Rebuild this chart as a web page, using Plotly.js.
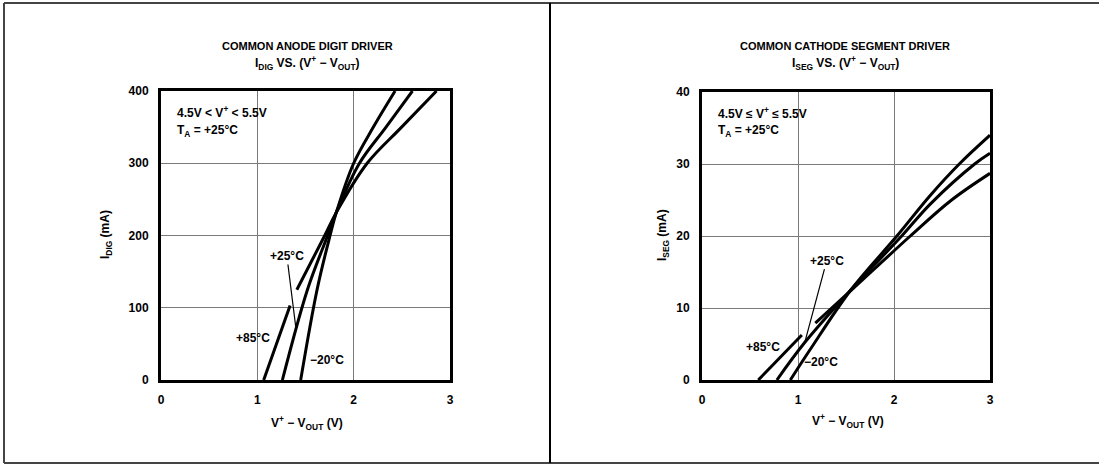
<!DOCTYPE html>
<html>
<head>
<meta charset="utf-8">
<script src="https://cdn.plot.ly/plotly-3.0.1.min.js"></script>
<style>html,body{margin:0;padding:0;background:#fff}#chart{width:1099px;height:464px}</style>
</head>
<body>
<div id="chart"></div>
<script>
// ---- Data ----
const xTickVals = [0, 1, 2, 3];
const digTickVals = [0, 100, 200, 300, 400];
const segTickVals = [0, 10, 20, 30, 40];

// Left: common anode digit driver, I_DIG (mA) vs V+ - VOUT (V)
const digX_m20 = [1.45, 1.62, 1.755, 1.82, 2.0, 2.20, 2.43];
const digY_m20 = [0, 125, 200, 232, 300, 349, 400];
const digX_p25 = [1.26, 1.52, 1.73, 1.82, 2.06, 2.33, 2.61];
const digY_p25 = [0, 125, 200, 232, 300, 349, 400];
const digX_p85 = [1.066, 1.34, null, 1.41, 1.70, 1.82, 2.14, 2.49, 2.86];
const digY_p85 = [0, 103, null, 125, 200, 232, 300, 349, 400];

// Right: common cathode segment driver, I_SEG (mA) vs V+ - VOUT (V)
const segX_m20 = [0.92, 1.125, 1.55, 2.03, 2.375, 2.68, 3.0];
const segY_m20 = [0, 4.2, 12.5, 20, 25.6, 30, 34.0];
const segX_p25 = [0.78, 1.07, 1.55, 2.08, 2.375, 2.84, 3.0];
const segY_p25 = [0, 5.2, 12.5, 20, 24.4, 30, 31.5];
const segX_p85 = [0.586, 1.04, null, 1.18, 1.55, 2.17, 2.6, 3.0];
const segY_p85 = [0, 6.25, null, 7.9, 12.4, 20, 25, 28.7];

// ---- Layout helpers ----
const W = 1099, H = 464;
const FONT = 'Liberation Sans, Arial, sans-serif';
const px = v => v / W;
const py = v => 1 - v / H;

function curve(x, y, xa, ya) {
  return {x: x, y: y, xaxis: xa, yaxis: ya, mode: 'lines', type: 'scatter',
          line: {color: '#000', width: 3, shape: 'spline', smoothing: 1.0},
          connectgaps: false, hoverinfo: 'skip', showlegend: false};
}

const traces = [
  curve(digX_m20, digY_m20, 'x', 'y'),
  curve(digX_p25, digY_p25, 'x', 'y'),
  curve(digX_p85, digY_p85, 'x', 'y'),
  curve(segX_m20, segY_m20, 'x2', 'y2'),
  curve(segX_p25, segY_p25, 'x2', 'y2'),
  curve(segX_p85, segY_p85, 'x2', 'y2')
];

const tickFont = {family: FONT, size: 12, color: '#000', weight: 'bold'};
function xAxis(domain, anchor) {
  return {domain: domain, anchor: anchor, range: [0, 3], tickvals: xTickVals,
          showgrid: true, gridcolor: '#7a7a7a', gridwidth: 1, zeroline: false,
          showline: true, linecolor: '#000', linewidth: 3, mirror: true, ticks: '',
          ticklabelstandoff: 7, tickfont: tickFont, fixedrange: true};
}
function yAxis(domain, anchor, range, vals) {
  return {domain: domain, anchor: anchor, range: range, tickvals: vals,
          showgrid: true, gridcolor: '#7a7a7a', gridwidth: 1, zeroline: false,
          showline: true, linecolor: '#000', linewidth: 3, mirror: true, ticks: '',
          ticklabelstandoff: 7, tickfont: tickFont, fixedrange: true};
}

function paperText(text, x, y, xanchor, size, angle) {
  return {text: text, xref: 'paper', yref: 'paper', x: px(x), y: py(y),
          xanchor: xanchor || 'center', yanchor: 'middle', showarrow: false,
          textangle: angle || 0,
          font: {family: FONT, size: size || 12, color: '#000', weight: 'bold'}};
}
function dataText(text, xr, yr, x, y) {
  return {text: text, xref: xr, yref: yr, x: x, y: y, xanchor: 'center', yanchor: 'middle',
          showarrow: false, font: {family: FONT, size: 12, color: '#000', weight: 'bold'}};
}
function leader(text, xr, yr, x, y, ax, ay) {
  return {text: text, xref: xr, yref: yr, x: x, y: y, ax: ax, ay: ay, showarrow: true,
          arrowhead: 0, arrowwidth: 1.2, arrowcolor: '#000', standoff: 0,
          font: {family: FONT, size: 12, color: '#000', weight: 'bold'}};
}

const annotations = [
  // left panel
  paperText('COMMON ANODE DIGIT DRIVER', 307, 46, 'center', 11),
  paperText('I<sub>DIG</sub> VS. (V<sup>+</sup> − V<sub>OUT</sub>)', 307, 63, 'center', 12),
  paperText('4.5V < V<sup>+</sup> < 5.5V', 175, 112, 'left', 12),
  paperText('T<sub>A</sub> = +25°C', 175, 131, 'left', 12),
  paperText('V<sup>+</sup> − V<sub>OUT</sub> (V)', 307, 423, 'center', 12),
  paperText('I<sub>DIG</sub> (mA)', 106, 235, 'center', 12, -90),
  dataText('+85°C', 'x', 'y', 0.95, 58),
  dataText('−20°C', 'x', 'y', 1.72, 28),
  leader('+25°C', 'x', 'y', 1.40, 72, -9, -72),
  // right panel
  paperText('COMMON CATHODE SEGMENT DRIVER', 845, 46, 'center', 11),
  paperText('I<sub>SEG</sub> VS. (V<sup>+</sup> − V<sub>OUT</sub>)', 845, 63, 'center', 12),
  paperText('4.5V ≤ V<sup>+</sup> ≤ 5.5V', 716, 113, 'left', 12),
  paperText('T<sub>A</sub> = +25°C', 716, 131, 'left', 12),
  paperText('V<sup>+</sup> − V<sub>OUT</sub> (V)', 848, 421, 'center', 12),
  paperText('I<sub>SEG</sub> (mA)', 663, 235, 'center', 12, -90),
  dataText('+85°C', 'x2', 'y2', 0.64, 4.6),
  dataText('−20°C', 'x2', 'y2', 1.24, 2.55),
  leader('+25°C', 'x2', 'y2', 1.07, 5.2, 22, -82)
];

const lineStyle = {color: '#444', width: 2};
const shapes = [
  {type: 'line', xref: 'paper', yref: 'paper', x0: px(4), x1: 1, y0: py(3), y1: py(3), line: lineStyle},
  {type: 'line', xref: 'paper', yref: 'paper', x0: px(4), x1: px(4), y0: py(3), y1: py(463), line: lineStyle},
  {type: 'line', xref: 'paper', yref: 'paper', x0: px(4), x1: 1, y0: py(463), y1: py(463), line: lineStyle},
  {type: 'line', xref: 'paper', yref: 'paper', x0: px(550), x1: px(550), y0: py(3), y1: py(463), line: {color: '#000', width: 2}}
];

const layout = {
  width: W, height: H, margin: {l: 0, r: 0, t: 0, b: 0},
  paper_bgcolor: '#fff', plot_bgcolor: '#fff', showlegend: false,
  xaxis: xAxis([px(161), px(450)], 'y'),
  yaxis: yAxis([1 - 380 / H, 1 - 91 / H], 'x', [0, 400], digTickVals),
  xaxis2: xAxis([px(702), px(990)], 'y2'),
  yaxis2: yAxis([1 - 380 / H, 1 - 92 / H], 'x2', [0, 40], segTickVals),
  annotations: annotations, shapes: shapes
};

Plotly.newPlot('chart', traces, layout, {staticPlot: true, displayModeBar: false});
</script>
</body>
</html>
